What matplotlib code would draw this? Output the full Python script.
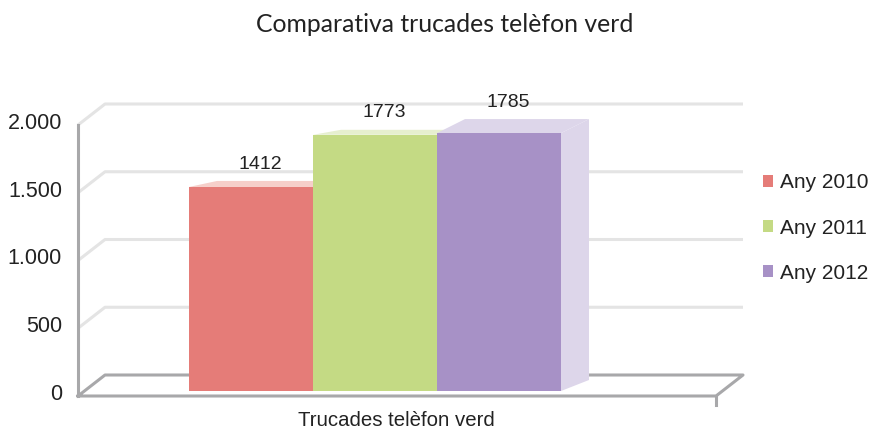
import matplotlib.pyplot as plt
from matplotlib.patches import Polygon
from matplotlib.transforms import ScaledTranslation

plt.rcParams['font.family'] = ['Liberation Sans', 'DejaVu Sans']

# dades
series = ['Any 2010', 'Any 2011', 'Any 2012']
valors = [1412, 1773, 1785]
categoria = 'Trucades telèfon verd'
ticks = [0, 500, 1000, 1500, 2000]
tick_labels = ['0', '500', '1.000', '1.500', '2.000']

colors = ['#e57c78', '#c4da84', '#a791c6']
colors_clar = ['#f6cfca', '#e6efcf', '#ddd6ea']
gris = '#a8a8aa'
gris_clar = '#e4e4e4'
text_color = '#222222'

W, H = 876, 433
fig = plt.figure(figsize=(W / 100, H / 100), dpi=100)

# parets i terra (pla frontal: x 78..716 px, y 396..125 px)
ax = fig.add_axes([78 / W, (H - 396) / H, 638 / W, 271 / H])
ax.set_xlim(0, 1)
ax.set_ylim(0, 2000)
ax.patch.set_alpha(0)
for s in ax.spines.values():
    s.set_visible(False)
ax.set_xticks([])
ax.set_yticks(ticks)
ax.set_yticklabels(tick_labels, fontsize=15.5, color=text_color)
ax.tick_params(axis='y', length=0, pad=11.5)
for lbl in ax.get_yticklabels():
    lbl.set_transform(lbl.get_transform() + ScaledTranslation(0, 0.04, fig.dpi_scale_trans))

ddx = 27 / 638
ddy = 21 * 2000 / 271
for v in ticks[1:]:
    ax.plot([0, ddx, 1 + ddx], [v, v + ddy, v + ddy], color=gris_clar, lw=2.2,
            clip_on=False, solid_capstyle='butt', zorder=1)
# terra
ax.plot([0, ddx, 1 + ddx, 1, 0], [0, ddy, ddy, 0, 0], color=gris, lw=2.2,
        clip_on=False, zorder=2)
ax.plot([0, 0], [0, 2000], color=gris, lw=2.2, clip_on=False, zorder=2)
ax.plot([1, 1], [0, -70], color=gris, lw=2.2, clip_on=False, zorder=2)

# columnes
ax2 = fig.add_axes([78 / W, (H - 391) / H, 638 / W, 289 / H])
ax2.set_xlim(0, 1)
ax2.set_ylim(0, 2000)
ax2.axis('off')

amplada = 124 / 638
x0 = 111 / 638
fx = 28 / 638
fons_sup = [6, 5, 14]  # fondaria visible de la cara superior, px
px = 2000 / 289

for i, (nom, v) in enumerate(zip(series, valors)):
    xl = x0 + i * amplada
    xr = xl + amplada
    dy = fons_sup[i] * px
    ax2.add_patch(Polygon([(xl, v), (xr, v), (xr + fx, v + dy), (xl + fx, v + dy)],
                          closed=True, facecolor=colors_clar[i], edgecolor='none',
                          zorder=3 + i, clip_on=False))
    if i == len(valors) - 1:
        ax2.add_patch(Polygon([(xr, 0), (xr + fx, 11 * px), (xr + fx, v + dy), (xr, v)],
                              closed=True, facecolor=colors_clar[i], edgecolor='none',
                              zorder=3 + i, clip_on=False))
    ax2.bar(xl, v, width=amplada, align='edge', color=colors[i], label=nom,
            zorder=3 + i, clip_on=False)
    ax2.annotate(str(v), (xl + amplada / 2 + fx / 3, v + dy), xytext=(0, 6),
                 textcoords='offset points', ha='center', va='bottom',
                 fontsize=14, color=text_color)

fig.text(445 / W, 1 - 25 / H, 'Comparativa trucades telèfon verd',
         ha='center', va='center', fontsize=17.8, family='Lato', color=text_color)
fig.text(396 / W, 1 - 421 / H, categoria, ha='center', va='center',
         fontsize=14.7, color=text_color)

fig.legend(loc='center left', bbox_to_anchor=(763 / W, 1 - 228 / H), frameon=False,
           fontsize=15, handlelength=0.5, handleheight=0.5, handletextpad=0.3,
           labelspacing=1.25, borderpad=0, borderaxespad=0, labelcolor=text_color)

fig.savefig('out.png', dpi=100)
